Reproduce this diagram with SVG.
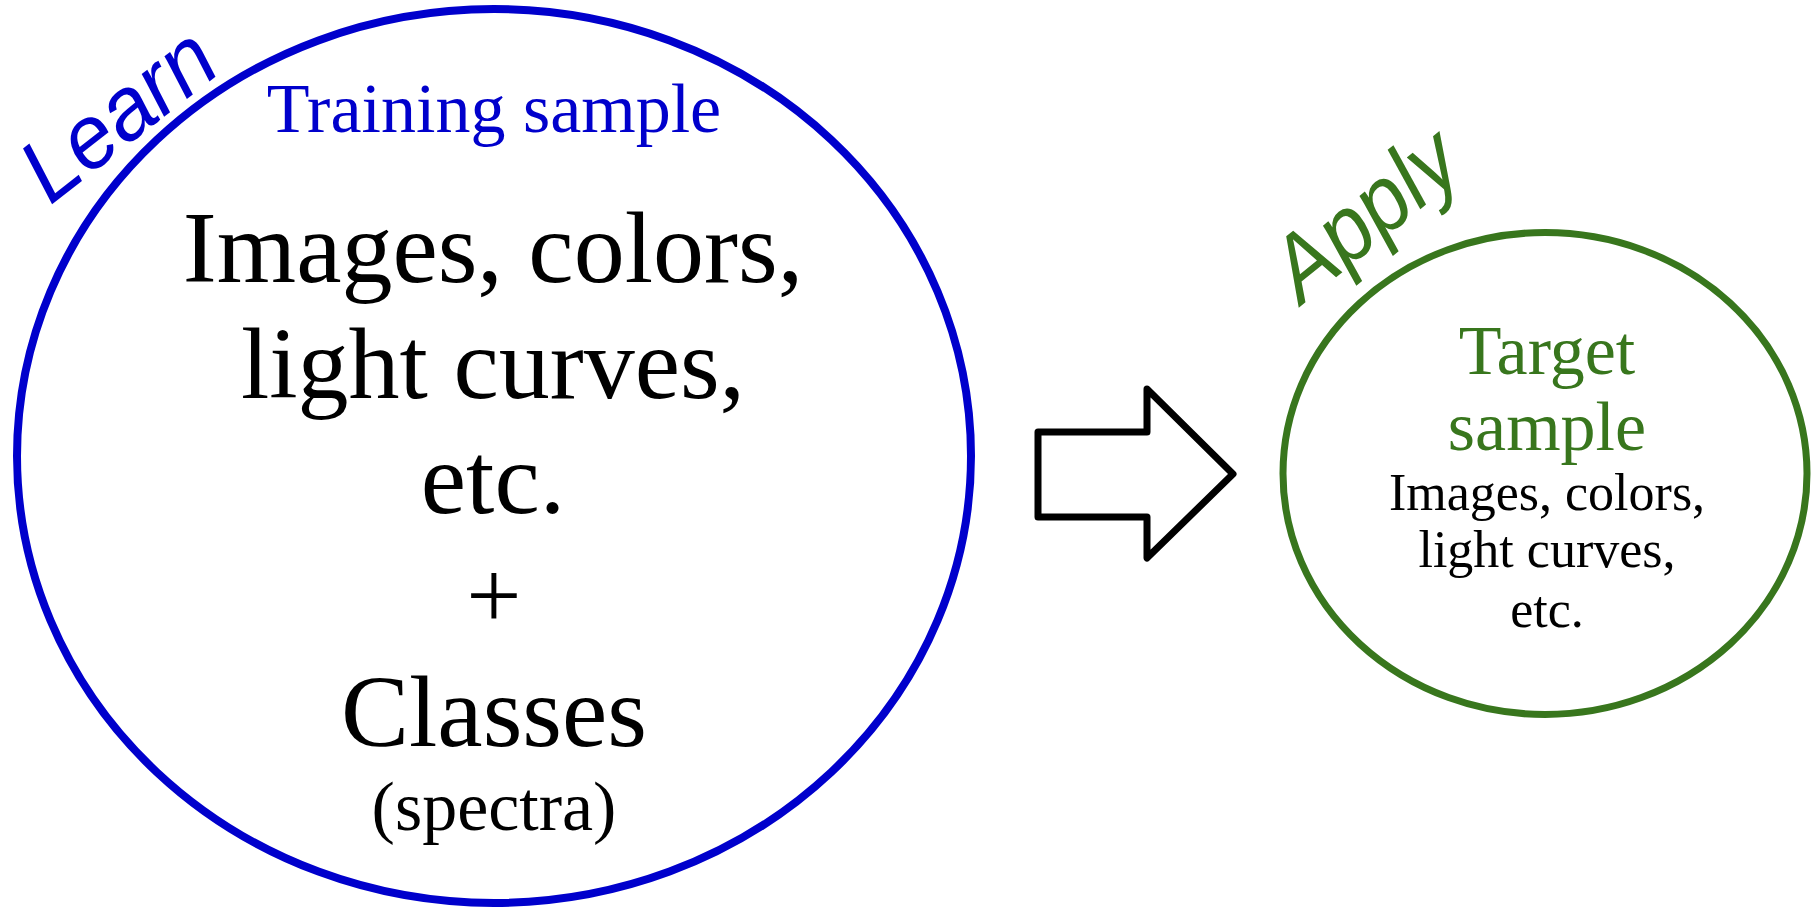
<svg xmlns="http://www.w3.org/2000/svg" width="1814" height="909" viewBox="0 0 1814 909">
<style>
.serif{font-family:"Liberation Serif","Times New Roman",serif;text-anchor:middle}
.hand{font-family:"Liberation Sans",Arial,sans-serif;font-style:italic}
.blue{fill:#0000cc}
.green{fill:#38761d}
.black{fill:#000}
</style>
<rect width="1814" height="909" fill="#fff"/>
<g id="training">
<ellipse cx="494" cy="456" rx="477" ry="447" fill="none" stroke="#0000cc" stroke-width="8"/>
<text class="serif blue" x="494" y="132" font-size="70">Training sample</text>
<text class="serif black" x="493" y="282" font-size="102">Images, colors,</text>
<text class="serif black" x="493" y="398" font-size="102">light curves,</text>
<text class="serif black" x="493" y="513" font-size="102">etc.</text>
<text class="serif black" x="494" y="628" font-size="98">+</text>
<text class="serif black" x="494" y="746" font-size="102">Classes</text>
<text class="serif black" x="494" y="830" font-size="70">(spectra)</text>
</g>
<g id="learn">
<text class="hand blue" transform="translate(50,206) rotate(-38)" font-size="90" textLength="220" lengthAdjust="spacingAndGlyphs">Learn</text>
</g>
<g id="target">
<ellipse cx="1545" cy="473.5" rx="262" ry="241" fill="none" stroke="#38761d" stroke-width="7"/>
<text class="serif green" x="1547" y="374" font-size="70">Target</text>
<text class="serif green" x="1547" y="450" font-size="70">sample</text>
<text class="serif black" x="1547" y="510" font-size="52">Images, colors,</text>
<text class="serif black" x="1547" y="567" font-size="52">light curves,</text>
<text class="serif black" x="1547" y="627" font-size="52">etc.</text>
</g>
<g id="apply">
<text class="hand green" transform="translate(1302,305) rotate(-39)" font-size="92" textLength="212" lengthAdjust="spacingAndGlyphs">Apply</text>
</g>
<g id="connectors">
<polygon points="1038,432 1147,432 1147,389 1233,474 1147,558 1147,517 1038,517" fill="#fff" stroke="#000" stroke-width="7" stroke-linejoin="round"/>
</g>
</svg>
